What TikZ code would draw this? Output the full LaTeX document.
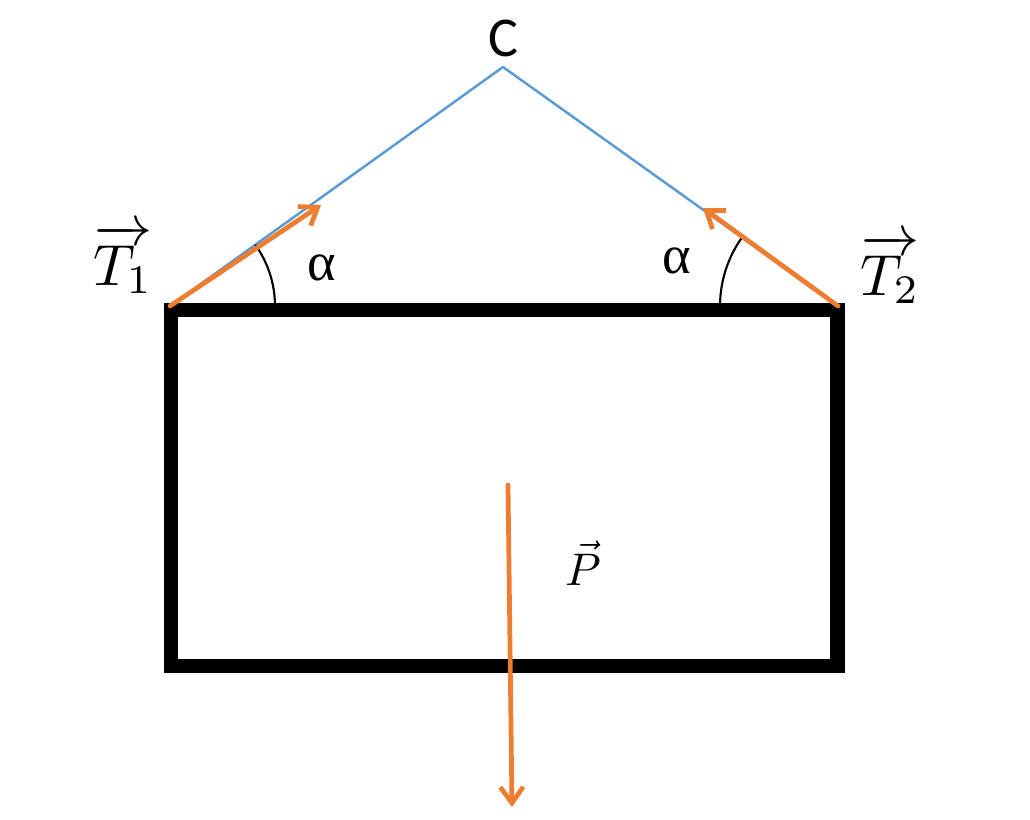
\documentclass[tikz,border=0pt]{standalone}
\usepackage{amsmath}
\usepackage{fontspec}
\usepackage{tikz}
\usetikzlibrary{calc,angles,arrows.meta}
\newfontfamily\capfont{Carlito}
\newfontfamily\grkfont{Liberation Serif}
\definecolor{rope}{HTML}{5B9BD5}
\definecolor{force}{HTML}{ED7D31}
\tikzset{
  ropeline/.style={draw=rope, line width=1.4pt, line cap=round, line join=round},
  vec/.style={draw=force, line width=2.7pt, line cap=round, -{Straight Barb[length=3.2mm,width=4.6mm]}},
  frame/.style={draw=black, line width=8.5pt},
  ang/.style={draw=black, line width=1.2pt},
  lab/.style={text=black, inner sep=0pt},
}

\begin{document}
\begin{tikzpicture}[x=0.02cm, y=-0.02cm]
  \useasboundingbox (0,0) rectangle (1030,819);
  \coordinate (A) at (170,306);
  \coordinate (B) at (838,306);
  \coordinate (C) at (503,67);
  \coordinate (T1) at (321,205);
  \coordinate (T2) at (703,208);
  \coordinate (Ptop) at (508,485);
  \coordinate (Pend) at (512,807);
  % rope and angles
  \draw[ropeline] (A)--(C)--(B);
  \pic[ang, angle radius=2.1cm] {angle = B--A--C};
  \pic[ang, angle radius=2.36cm] {angle = C--B--A};
  % body
  \draw[frame] (171,310) rectangle (837.5,666);
  % forces
  \draw[vec] (A)--(T1);
  \draw[vec] (B)--(T2);
  \draw[vec] (Ptop)--(Pend);
  % labels
  \node[lab, scale=3.2] (c) at (503,38) {\capfont C};
  \node[lab, scale=3.3] (t1) at (123,259) {$\overrightarrow{T_1}$};
  \node[lab, scale=3.3] (t2) at (890,269) {$\overrightarrow{T_2}$};
  \node[lab, scale=3.1] (a1) at (322,268) {\grkfont α};
  \node[lab, scale=3.1] (a2) at (677,261) {\grkfont α};
  \node[lab, scale=2.6] (p) at (583,563) {$\vec{P}$};
\end{tikzpicture}
\end{document}
